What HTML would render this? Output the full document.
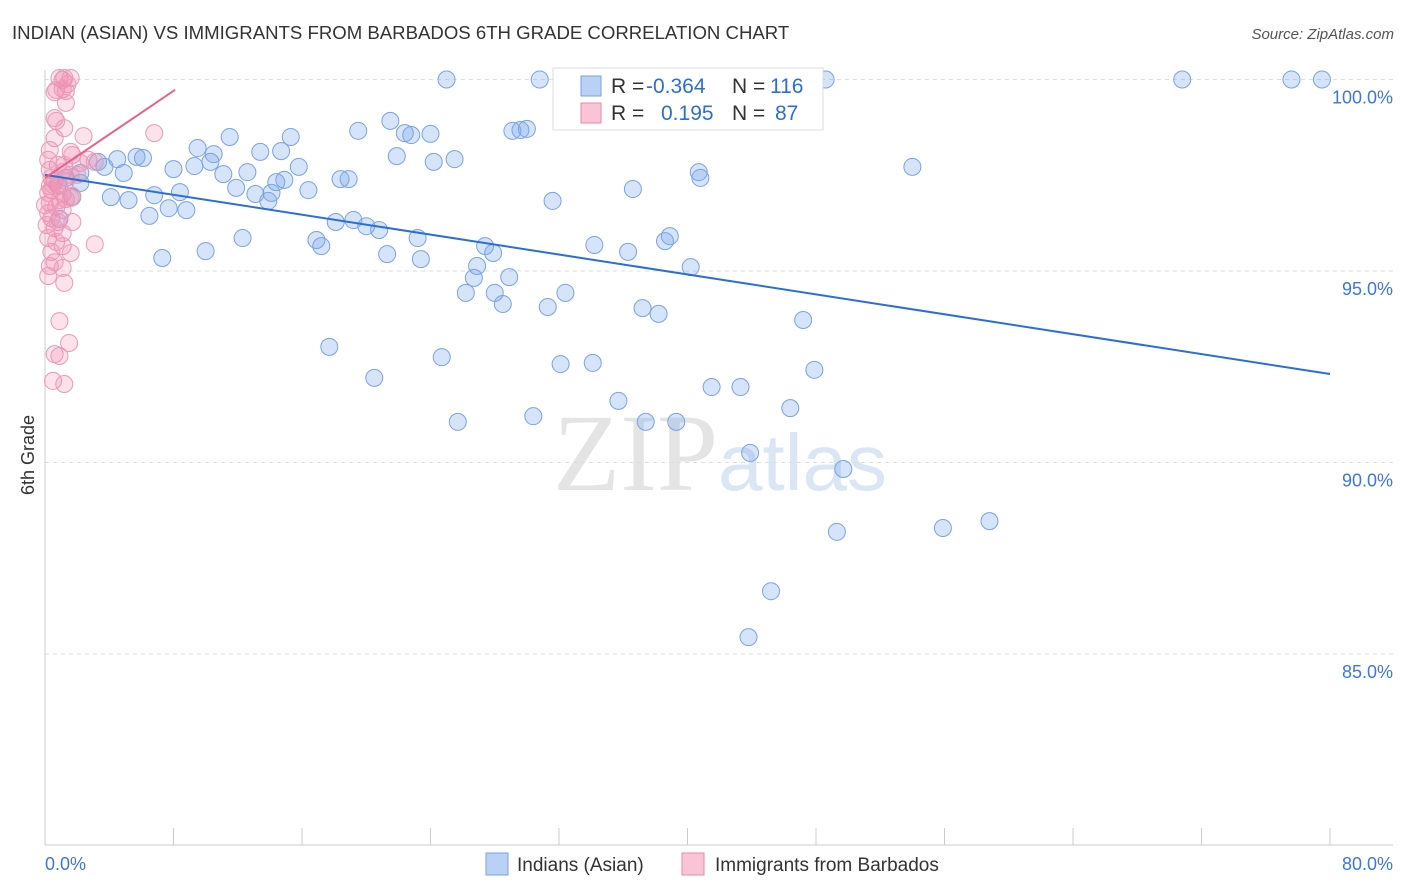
<!DOCTYPE html>
<html><head><meta charset="utf-8"><style>
body{margin:0;background:#fff;font-family:"Liberation Sans",sans-serif}
svg{display:block}
</style></head><body>
<svg id="chart" width="1406" height="892" xmlns="http://www.w3.org/2000/svg">
<text x="12" y="39" font-size="18.6" fill="#333">INDIAN (ASIAN) VS IMMIGRANTS FROM BARBADOS 6TH GRADE CORRELATION CHART</text>
<text x="1394" y="39" font-size="15" fill="#555" font-style="italic" text-anchor="end">Source: ZipAtlas.com</text>
<g>
<text x="553" y="490" font-size="110" fill="#e4e4e4" font-family="Liberation Serif,serif">ZIP</text>
<text x="718" y="490" font-size="80" fill="#dbe6f5">atlas</text>
</g>
<g id="grid"></g>
<g id="axes"></g>
<g id="blue"></g>
<g id="pink"></g>
<g id="trends"></g>
<text x="0" y="0" font-size="18" fill="#333" text-anchor="middle" transform="translate(34,455) rotate(-90)">6th Grade</text>
<g>
<rect x="553" y="68" width="270" height="62" fill="#fff" stroke="#ddd"/>
<rect x="581" y="76" width="20" height="20" fill="#b9d1f5" stroke="#7aa3e3"/>
<rect x="581" y="103" width="20" height="20" fill="#f9c4d6" stroke="#e88aab"/>
<text y="93" font-size="21"><tspan x="611" fill="#333">R = </tspan><tspan x="646" fill="#2a6fd4">-0.364</tspan><tspan x="732" fill="#333">N = </tspan><tspan x="770" fill="#2a6fd4">116</tspan></text>
<text y="120" font-size="21"><tspan x="611" fill="#333">R = </tspan><tspan x="661" fill="#2a6fd4">0.195</tspan><tspan x="732" fill="#333">N = </tspan><tspan x="775" fill="#2a6fd4">87</tspan></text>
</g>
<g>
<rect x="486" y="853" width="22" height="22" fill="#b9d1f5" stroke="#7aa3e3"/>
<text x="517" y="871" font-size="19" fill="#333">Indians (Asian)</text>
<rect x="682" y="853" width="22" height="22" fill="#f9c4d6" stroke="#e88aab"/>
<text x="715" y="871" font-size="19" fill="#333">Immigrants from Barbados</text>
</g>
</svg>
<script>
const yTicks=[100,95,90,85];
const xTickLabels=["0.0%","80.0%"];
const blueX=[25.0,30.8,48.6,70.8,77.6,79.5,46.8,21.5,19.5,22.4,22.8,24.0,29.1,29.6,30.0,11.5,15.3,9.5,14.7,13.4,21.9,25.5,24.2,10.5,5.7,6.1,4.5,3.3,3.7,8.0,9.3,10.3,12.6,11.1,15.8,14.9,14.4,18.4,18.9,16.4,4.9,2.2,1.3,2.2,0.8,1.7,4.1,5.2,6.8,8.4,11.9,13.1,14.1,13.9,36.6,40.7,40.8,54.0,31.6,0.9,6.5,7.7,8.8,18.1,19.2,20.0,20.8,12.3,16.9,17.2,23.2,27.4,27.9,34.2,36.3,38.6,38.9,7.3,10.0,21.3,23.4,26.9,26.7,28.9,40.2,26.2,28.0,28.5,32.4,31.3,37.2,38.2,47.2,17.7,24.7,32.1,34.1,20.5,41.5,43.3,47.9,35.7,46.4,30.4,25.7,37.4,39.3,43.9,49.7,49.3,55.9,58.8,45.2,43.8];
const blueY=[100,100,100,100,100,100,100,98.92,98.66,98.60,98.55,98.58,98.66,98.68,98.71,98.50,98.50,98.21,98.13,98.11,98.00,97.92,97.85,98.05,97.98,97.95,97.92,97.85,97.72,97.66,97.74,97.85,97.58,97.53,97.72,97.38,97.32,97.40,97.40,97.11,97.56,97.56,97.43,97.30,97.25,96.93,96.93,96.85,96.98,97.06,97.17,97.01,97.04,96.83,97.14,97.58,97.43,97.72,96.83,96.36,96.44,96.64,96.59,96.28,96.33,96.17,96.07,95.86,95.81,95.65,95.86,95.65,95.47,95.68,95.50,95.78,95.91,95.34,95.52,95.44,95.31,95.13,94.82,94.84,95.10,94.43,94.43,94.14,94.43,94.06,94.03,93.88,93.72,93.02,92.75,92.57,92.60,92.21,91.97,91.97,92.42,91.61,91.42,91.21,91.06,91.06,91.06,90.25,89.83,88.19,88.29,88.47,86.64,85.44];
const pinkX=[0.9,1.2,1.6,1.1,1.4,0.7,1.1,1.3,0.6,1.3,0.6,0.7,1.2,2.4,0.6,6.8,0.3,1.6,1.7,2.7,3.1,2.2,1.2,0.8,0.3,1.1,1.6,0.4,0.6,1.3,0.9,0.4,0.2,1.1,1.7,1.3,0.3,0.7,1.1,0.2,0.4,0.8,1.7,0.1,0.6,1.1,0.2,0.7,1.1,3.1,0.4,1.6,0.6,0.3,1.1,0.2,1.2,0.9,1.5,0.6,0.9,0.5,1.2,1.6,0.9,0.5,0.2,2.0,0.0,0.3];
const pinkY=[100.04,100.04,100.04,99.99,99.88,99.73,99.75,99.70,99.67,99.39,98.99,98.92,98.73,98.52,98.47,98.60,98.16,98.11,98.03,97.90,97.85,97.82,97.77,97.77,97.64,97.58,97.51,97.43,97.35,97.35,97.22,97.11,97.04,97.01,96.96,96.88,96.78,96.67,96.59,96.51,96.38,96.28,96.28,96.20,96.12,95.99,95.86,95.76,95.65,95.70,95.50,95.47,95.23,95.13,95.08,94.87,94.69,93.69,93.12,92.83,92.78,92.13,92.05,96.91,96.85,97.25,97.90,97.51,96.72,97.22];
const blueTrend=[[0,97.51],[80,92.31]];
const pinkTrend=[[0,97.43],[8.1,99.73]];
const NS="http://www.w3.org/2000/svg";
const X0=45,X1=1330,Ytop=79.5,PX=38.3;
function sx(v){return X0+(v/80)*(X1-X0);}
function sy(v){return Ytop+(100-v)*PX;}
function mk(tag,attrs,parent){const e=document.createElementNS(NS,tag);for(const k in attrs)e.setAttribute(k,attrs[k]);parent.appendChild(e);return e;}
const grid=document.getElementById('grid'),axes=document.getElementById('axes');
yTicks.forEach(t=>{
 const l=mk('line',{x1:X0,x2:1393,y1:sy(t),y2:sy(t),stroke:'#ddd','stroke-dasharray':'4,4'},grid);
 
 
 const tx=mk('text',{x:1393,y:sy(t)+24,'font-size':18,fill:'#3b78d8','text-anchor':'end'},grid);
 tx.textContent=t.toFixed(1)+'%';
 
 
});
const a1=mk('line',{x1:X0,x2:X0,y1:70,y2:845,stroke:'#ccc'},axes);


const a2=mk('line',{x1:X0,x2:1393,y1:845,y2:845,stroke:'#ccc'},axes);


for(let i=0;i<=10;i++){
 const t=mk('line',{x1:sx(i*8),x2:sx(i*8),y1:828,y2:845,stroke:'#ccc'},axes);
 
 
}
[[0,'start',45],[80,'end',1393]].forEach((d,i)=>{
 const t=mk('text',{x:d[2],y:870,'font-size':18,fill:'#3b78d8','text-anchor':d[1]},axes);
 t.textContent=xTickLabels[i];
 
 
});
function pts(xs,ys,g,fill,stroke,name){
 xs.forEach((x,i)=>{
  const c=mk('circle',{cx:sx(x),cy:sy(ys[i]),r:8.5,fill:fill,stroke:stroke,'stroke-width':1},g);
  
  
 });
}
pts(blueX,blueY,document.getElementById('blue'),'rgba(120,165,235,0.3)','#7aa3e3','indians-point');
pts(pinkX,pinkY,document.getElementById('pink'),'rgba(240,140,175,0.25)','#eb9ab6','barbados-point');
const tr=document.getElementById('trends');
const bl=mk('line',{x1:sx(blueTrend[0][0]),y1:sy(blueTrend[0][1]),x2:sx(blueTrend[1][0]),y2:sy(blueTrend[1][1]),stroke:'#2a6fd4','stroke-width':2},tr);


const pl=mk('line',{x1:sx(pinkTrend[0][0]),y1:sy(pinkTrend[0][1]),x2:sx(pinkTrend[1][0]),y2:sy(pinkTrend[1][1]),stroke:'#e8608c','stroke-width':2},tr);


</script>
</body></html>
